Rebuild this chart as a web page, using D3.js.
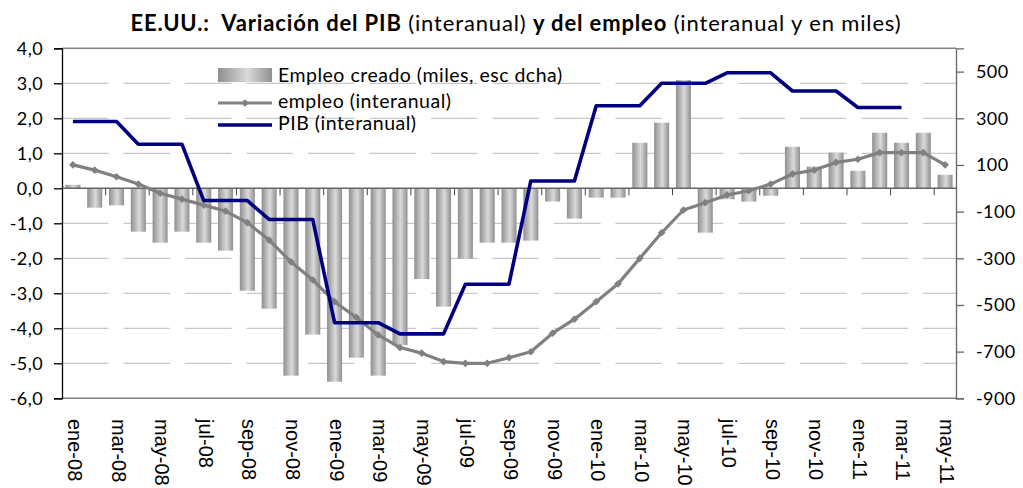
<!DOCTYPE html>
<html><head><meta charset="utf-8">
<script src="https://cdn.jsdelivr.net/npm/d3@7"></script>
<style>
html,body{margin:0;padding:0;background:#fff;}
svg{display:block;}
</style></head>
<body>
<svg id="chart" width="1023" height="488"></svg>
<script>
const months = ["ene-08","feb-08","mar-08","abr-08","may-08","jun-08","jul-08","ago-08","sep-08","oct-08","nov-08","dic-08",
"ene-09","feb-09","mar-09","abr-09","may-09","jun-09","jul-09","ago-09","sep-09","oct-09","nov-09","dic-09",
"ene-10","feb-10","mar-10","abr-10","may-10","jun-10","jul-10","ago-10","sep-10","oct-10","nov-10","dic-10",
"ene-11","feb-11","mar-11","abr-11","may-11"];
const empleoCreado = [15,-83,-73,-186,-233,-186,-233,-267,-439,-516,-803,-627,
-829,-726,-803,-672,-389,-507,-302,-233,-233,-224,-57,-130,
-40,-40,195,281,464,-190,-47,-57,-32,178,93,153,
75,238,195,238,58];
const empleoYoy = [0.67,0.52,0.33,0.12,-0.14,-0.31,-0.48,-0.65,-0.98,-1.48,-2.10,-2.62,
-3.24,-3.69,-4.19,-4.55,-4.71,-4.95,-5.0,-5.0,-4.84,-4.67,-4.14,-3.74,
-3.24,-2.73,-2.0,-1.27,-0.62,-0.41,-0.19,-0.07,0.12,0.41,0.52,0.74,
0.83,1.02,1.02,1.02,0.67];
const pib = [1.91,1.91,1.91,1.26,1.26,1.26,-0.35,-0.35,-0.35,-0.89,-0.89,-0.89,
-3.84,-3.84,-3.84,-4.16,-4.16,-4.16,-2.74,-2.74,-2.74,0.21,0.21,0.21,
2.36,2.36,2.36,3.0,3.0,3.0,3.3,3.3,3.3,2.78,2.78,2.78,
2.31,2.31,2.31,null,null];
const leftTicks = [4,3,2,1,0,-1,-2,-3,-4,-5,-6];
const rightTicks = [500,300,100,-100,-300,-500,-700,-900];
const xLabelMonths = months.filter((m,i)=>i%2===0);
const legendLabels = ["Empleo creado (miles, esc dcha)","empleo (interanual)","PIB (interanual)"];

const svg = d3.select("#chart");
const L = 62, R = 956, T = 48.3, B = 398.3;
const x = d3.scaleBand().domain(months).range([L,R]).paddingInner(0).paddingOuter(0);
const yL = d3.scaleLinear().domain([-6,4]).range([B,T]);
const yR = d3.scaleLinear().domain([-900,600]).range([B,T]);
const bw = x.bandwidth();
const barW = bw*0.69;
const FONT = "Lato, 'Open Sans', sans-serif";

const defs = svg.append("defs");
const grad = defs.append("linearGradient").attr("id","barGrad").attr("x1","0").attr("x2","1").attr("y1","0").attr("y2","0");
grad.append("stop").attr("offset","0%").attr("stop-color","#8f8f8f");
grad.append("stop").attr("offset","55%").attr("stop-color","#dadada");
grad.append("stop").attr("offset","100%").attr("stop-color","#8f8f8f");

// title
const title = svg.append("text").attr("x",516).attr("y",31).attr("text-anchor","middle")
  .style("font-family",FONT).style("font-size","22px").style("letter-spacing","0.85px")
  .style("white-space","pre").attr("fill","#000");
title.append("tspan").attr("font-weight","bold").text("EE.UU.:  Variación del PIB");
title.append("tspan").text(" (interanual) ");
title.append("tspan").attr("font-weight","bold").text("y del empleo");
title.append("tspan").text(" (interanual y en miles)");

// gridlines
svg.append("g").selectAll("line").data(leftTicks.filter(v=>v!==0 && v!==4 && v!==-6)).join("line")
  .attr("x1",L).attr("x2",R).attr("y1",d=>yL(d)).attr("y2",d=>yL(d))
  .attr("stroke","#c8c8c8").attr("stroke-width",1.2).attr("stroke-dasharray","46.5,15");

// bars
svg.append("g").selectAll("rect").data(empleoCreado).join("rect")
  .attr("x",(d,i)=>x(months[i])+(bw-barW)/2)
  .attr("width",barW)
  .attr("y",d=>Math.min(yR(d),yR(0)))
  .attr("height",d=>Math.abs(yR(d)-yR(0)))
  .attr("fill","url(#barGrad)");

// frame
svg.append("line").attr("x1",L).attr("x2",R).attr("y1",T).attr("y2",T).attr("stroke","#808080").attr("stroke-width",1.5);
svg.append("line").attr("x1",L).attr("x2",R).attr("y1",B).attr("y2",B).attr("stroke","#808080").attr("stroke-width",1.5);

// zero axis line with ticks
svg.append("line").attr("x1",L).attr("x2",R).attr("y1",yL(0)).attr("y2",yL(0)).attr("stroke","#666").attr("stroke-width",1.5);
svg.append("g").selectAll("line").data(months.filter((m,i)=>i>0 && i%2===0)).join("line")
  .attr("x1",d=>x(d)).attr("x2",d=>x(d)).attr("y1",yL(0)).attr("y2",yL(0)+7)
  .attr("stroke","#444").attr("stroke-width",1);

// left axis
const gL = svg.append("g").attr("transform",`translate(${L},0)`)
  .call(d3.axisLeft(yL).tickValues(leftTicks).tickSize(8).tickPadding(11)
    .tickFormat(d=>d3.format(".1f")(d).replace(".",",").replace("−","-")));
gL.select(".domain").attr("stroke","#000").attr("stroke-width",1.3);
gL.selectAll(".tick line").attr("stroke","#000").attr("stroke-width",1.3);
gL.selectAll("text").style("font-family",FONT).style("font-size","18px").style("letter-spacing","0.4px").attr("fill","#000");

// right axis
const gR = svg.append("g").attr("transform",`translate(${R},0)`)
  .call(d3.axisRight(yR).tickValues(rightTicks).tickSize(8).tickPadding(12)
    .tickFormat(d=>String(d)));
gR.select(".domain").attr("stroke","#666").attr("stroke-width",1.3);
gR.selectAll(".tick line").attr("stroke","#666").attr("stroke-width",1.3);
gR.selectAll("text").style("font-family",FONT).style("font-size","18px").style("letter-spacing","0.4px").attr("fill","#000");

// x labels
svg.append("g").selectAll("text").data(xLabelMonths).join("text")
  .attr("transform",d=>`translate(${x(d)+bw/2+2},419) rotate(90)`)
  .attr("dy","0.35em")
  .style("font-family","'Liberation Sans', Arial, sans-serif").style("font-size","20px").attr("fill","#000")
  .text(d=>d);

// employment line
const lineEmp = d3.line().x((d,i)=>x(months[i])+bw/2).y(d=>yL(d));
svg.append("path").datum(empleoYoy).attr("d",lineEmp).attr("fill","none")
  .attr("stroke","#808080").attr("stroke-width",3.2).attr("stroke-linejoin","round");
const diamond = d3.symbol(d3.symbolSquare, 30);
svg.append("g").selectAll("path").data(empleoYoy).join("path")
  .attr("d",diamond)
  .attr("transform",(d,i)=>`translate(${x(months[i])+bw/2},${yL(d)}) rotate(45)`)
  .attr("fill","#808080");

// PIB line
const linePib = d3.line().defined(d=>d!==null).x((d,i)=>x(months[i])+bw/2).y(d=>yL(d));
svg.append("path").datum(pib).attr("d",linePib).attr("fill","none")
  .attr("stroke","#000080").attr("stroke-width",3.6).attr("stroke-linejoin","round");

// legend
const lg = svg.append("g");
lg.append("rect").attr("x",218).attr("y",68).attr("width",54).attr("height",14).attr("fill","url(#barGrad)");
lg.append("line").attr("x1",218).attr("x2",272).attr("y1",103).attr("y2",103).attr("stroke","#808080").attr("stroke-width",3.2);
lg.append("path").attr("d",diamond).attr("transform","translate(245,103) rotate(45)").attr("fill","#808080");
lg.append("line").attr("x1",218).attr("x2",272).attr("y1",125).attr("y2",125).attr("stroke","#000080").attr("stroke-width",3.6);
lg.selectAll("text").data(legendLabels).join("text")
  .attr("x",278).attr("y",(d,i)=>[82,108,130][i])
  .style("font-family",FONT).style("font-size","19.5px").style("letter-spacing","0.5px").attr("fill","#000")
  .text(d=>d);
</script>
</body></html>
